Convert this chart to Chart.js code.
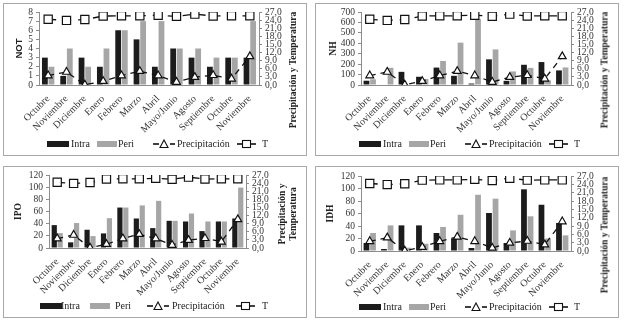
<!DOCTYPE html>
<html><head><meta charset="utf-8">
<script src="https://cdn.jsdelivr.net/npm/chart.js@4.4.1/dist/chart.umd.min.js"></script>
<style>
html,body{margin:0;padding:0;background:#fff;width:624px;height:323px;overflow:hidden;position:relative}
.panel{position:absolute;border:1px solid #a8a8a8;box-sizing:border-box}
.lg{position:absolute;font:10px "Liberation Serif",serif;color:#222;white-space:nowrap;line-height:10px}
.sw{position:absolute;line-height:0}
.sw svg{display:block}
.rt{position:absolute;font:bold 9.5px "Liberation Serif",serif;color:#222;white-space:nowrap;transform:translate(-50%,-50%) rotate(-90deg);text-align:center;line-height:11px}
</style></head><body>
<script>
// ---- data ----
const months = ['Octubre','Noviembre','Diciembre','Enero','Febrero','Marzo','Abril','Mayo/Junio','Agosto','Septiembre','Octubre','Noviembre'];
const precipitacion = [3.5,4.8,0.1,1.4,3.5,5.1,3.5,1.1,2.9,3.6,2.3,10.6];
const temperatura = [24.3,23.9,24.2,25.5,25.6,25.6,25.8,25.4,26.2,25.5,25.6,25.6];
const notIntra = [3,1,3,2,6,5,2,4,3,2,3,3];
const notPeri = [2,4,2,4,6,7,7,4,4,3,3,7];
const nhIntra = [41,0,126,79,167,88,14,246,40,194,220,140];
const nhPeri = [55,165,0,58,230,406,634,341,130,164,45,168];
const ipoIntra = [37.6,9.3,30,24,66.5,48.5,32.7,44.7,43.6,27.8,43.6,48.5];
const ipoPeri = [24.5,41,19.6,49,66.5,70,77.5,44.7,56.7,43.6,43.6,99.3];
const idhIntra = [12.8,3.2,41,41,28.8,19.7,4.8,60.8,12.8,98.7,74,44.8];
const idhPeri = [28.8,41,5.3,11.7,38.4,58,90,83.7,33,55.5,20,25];
// ---- tick labels ----
const notTicks = [0,1,2,3,4,5,6,7,8];
const nhTicks = [0,100,200,300,400,500,600,700];
const ipoTicks = [0,20,40,60,80,100,120];
const idhTicks = [0,20,40,60,80,100,120];
const rightTicks = [0,3,6,9,12,15,18,21,24,27];
const legendLabels = ['Intra','Peri','Precipitación','T'];
const rightTitle = 'Precipitación y Temperatura';

const AX = '#8c8c8c';
const tickFont = {family:'Liberation Serif', size:9.5, lineHeight:1};

function makePanel(cfg){
  const W = cfg.w, H = cfg.h;
  const box = document.createElement('div');
  box.className = 'panel';
  box.style.cssText = `left:${cfg.x}px;top:${cfg.y}px;width:${W}px;height:${H}px`;
  document.body.appendChild(box);
  const canvas = document.createElement('canvas');
  canvas.width = W; canvas.height = H;
  canvas.style.cssText = `position:absolute;left:${cfg.x}px;top:${cfg.y}px;width:${W}px;height:${H}px`;
  document.body.appendChild(canvas);
  const xAxisH = 48;
  new Chart(canvas, {
    type:'bar',
    data:{labels:months, datasets:[
      {type:'line', label:legendLabels[2], data:precipitacion, yAxisID:'y1', order:0,
       borderColor:'#111', borderWidth:1.3, borderDash:[6,5], pointStyle:'triangle', pointRadius:4.5,
       pointBackgroundColor:'#fff', pointBorderColor:'#111', pointBorderWidth:1.2, fill:false, tension:0},
      {type:'line', label:legendLabels[3], data:temperatura, yAxisID:'y1', order:0,
       borderColor:'#111', borderWidth:1.3, borderDash:[8,7], pointStyle:'rect', pointRadius:5.8,
       pointBackgroundColor:'#fff', pointBorderColor:'#111', pointBorderWidth:1.2, fill:false, tension:0},
      {label:legendLabels[0], data:cfg.intra, yAxisID:'y', order:1, backgroundColor:'#1c1c1c',
       barPercentage:0.88, categoryPercentage:cfg.cat},
      {label:legendLabels[1], data:cfg.peri, yAxisID:'y', order:1, backgroundColor:'#a6a6a6',
       barPercentage:0.88, categoryPercentage:cfg.cat}
    ]},
    options:{
      responsive:false, animation:false, devicePixelRatio:1,
      layout:{padding:{left:cfg.padL, top:cfg.plotTop, right:0, bottom:H - cfg.plotBottom - xAxisH}},
      plugins:{legend:{display:false}, tooltip:{enabled:false}},
      scales:{
        x:{grid:{display:false, drawTicks:false}, border:{display:true, color:AX},
           ticks:{autoSkip:false, minRotation:45, maxRotation:45, padding:8, color:'#333', font:{family:'Liberation Serif', size:10}},
           afterFit(s){s.height = xAxisH;}},
        y:{position:'left', min:0, max:cfg.ticks[cfg.ticks.length-1],
           ticks:{autoSkip:false, padding:3, color:'#333', font:tickFont},
           afterBuildTicks(s){s.ticks = cfg.ticks.map(v=>({value:v}));},
           grid:{display:true, drawOnChartArea:false, drawTicks:true, tickLength:3, color:AX},
           border:{display:true, color:AX},
           title:{display:true, text:cfg.title, padding:0, color:'#222',
                  font:{family:cfg.titleFamily, size:9.5, weight:'bold'}},
           afterFit(s){s.width = cfg.plotLeft - cfg.padL;}},
        y1:{position:'right', min:0, max:27,
           ticks:{autoSkip:false, padding:3, color:'#333', font:tickFont, callback:v=>Number(v).toFixed(1).replace('.',',')},
           afterBuildTicks(s){s.ticks = rightTicks.map(v=>({value:v}));},
           grid:{display:true, drawOnChartArea:false, drawTicks:true, tickLength:3, color:AX},
           border:{display:true, color:AX},
           afterFit(s){s.width = W - cfg.plotRight;}}
      }
    }
  });
  // right axis title
  const rt = document.createElement('div');
  rt.className = 'rt';
  rt.style.left = (cfg.x + cfg.rtX) + 'px';
  rt.style.top = (cfg.y + cfg.rtY) + 'px';
  if (cfg.rtTwoLines){
    const parts = rightTitle.split(' y ');
    rt.innerHTML = parts[0] + ' y<br>' + parts[1];
  } else rt.textContent = rightTitle;
  document.body.appendChild(rt);
  // legend
  const L = cfg.lg, ly = cfg.y + L.y;
  const add = (html, left, top, cls) => {
    const d = document.createElement('div'); d.className = cls; d.innerHTML = html;
    d.style.left = (cfg.x + left) + 'px'; d.style.top = top + 'px'; document.body.appendChild(d);
  };
  add(`<svg width="22" height="6"><rect width="22" height="6" fill="#1c1c1c"/></svg>`, L.b1, ly - 3, 'sw');
  add(legendLabels[0], L.t1, ly - 5, 'lg');
  add(`<svg width="20" height="6"><rect width="20" height="6" fill="#a6a6a6"/></svg>`, L.b2, ly - 3, 'sw');
  add(legendLabels[1], L.t2, ly - 5, 'lg');
  add(`<svg width="22" height="10"><line x1="0" y1="5" x2="6" y2="5" stroke="#111" stroke-width="1.6"/><polygon points="11,1 15,8.5 7,8.5" fill="#fff" stroke="#111" stroke-width="1.1"/><line x1="17" y1="5" x2="22" y2="5" stroke="#111" stroke-width="1.6"/></svg>`, L.s3, ly - 5, 'sw');
  add(legendLabels[2], L.t3, ly - 5, 'lg');
  add(`<svg width="19" height="10"><line x1="0" y1="5" x2="19" y2="5" stroke="#111" stroke-width="1.6"/><rect x="5.5" y="1.5" width="8" height="7" fill="#fff" stroke="#111" stroke-width="1.1"/></svg>`, L.s4, ly - 5, 'sw');
  add(legendLabels[3], L.t4, ly - 5, 'lg');
}

const lgA = {y:141, b1:44, t1:68, b2:94, t2:115, s3:150, t3:174, s4:234, t4:259};
const lgC = {y:140, b1:37, t1:58, b2:87, t2:112, s3:144, t3:169, s4:233, t4:259};

makePanel({x:3, y:3, w:304, h:153, plotLeft:36, plotRight:256, plotTop:9, plotBottom:82, padL:11,
  ticks:notTicks, title:'NOT', titleFamily:'Liberation Sans', intra:notIntra, peri:notPeri, cat:0.72,
  rtX:290, rtY:67, lg:lgA});
makePanel({x:315, y:3, w:304, h:153, plotLeft:46, plotRight:256, plotTop:9, plotBottom:82, padL:13,
  ticks:nhTicks, title:'NH', titleFamily:'Liberation Serif', intra:nhIntra, peri:nhPeri, cat:0.75,
  rtX:290, rtY:67, lg:lgA});
makePanel({x:3, y:166, w:304, h:152, plotLeft:46, plotRight:243, plotTop:9, plotBottom:82, padL:10,
  ticks:ipoTicks, title:'IPO', titleFamily:'Liberation Serif', intra:ipoIntra, peri:ipoPeri, cat:0.72,
  rtX:285, rtY:48, rtTwoLines:true, lg:lgC});
makePanel({x:315, y:166, w:304, h:152, plotLeft:46, plotRight:256, plotTop:10, plotBottom:85, padL:10,
  ticks:idhTicks, title:'IDH', titleFamily:'Liberation Serif', intra:idhIntra, peri:idhPeri, cat:0.75,
  rtX:290, rtY:69, lg:lgA});
</script>
</body></html>
